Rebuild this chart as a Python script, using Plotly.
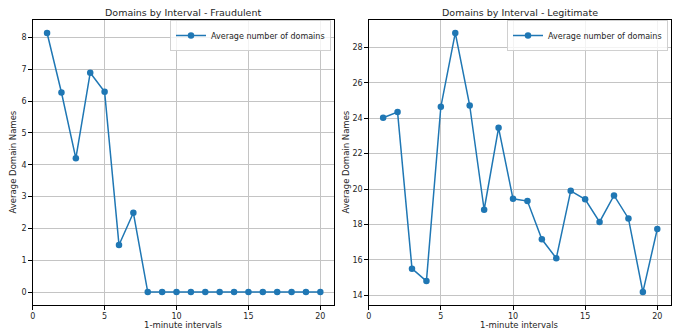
import plotly.graph_objects as go

intervals = list(range(1, 21))
fraud_avg = [8.14, 6.27, 4.20, 6.89, 6.29, 1.48, 2.49, 0, 0, 0, 0, 0, 0, 0, 0, 0, 0, 0, 0, 0]
legit_avg = [24.03, 24.35, 15.50, 14.80, 24.65, 28.82, 24.72, 18.83, 23.46, 19.45,
             19.32, 17.16, 16.09, 19.90, 19.42, 18.14, 19.64, 18.34, 14.18, 17.74]
series_name = "Average number of domains"
titles = ["Domains by Interval - Fraudulent", "Domains by Interval - Legitimate"]
xlabel = "1-minute intervals"
ylabel = "Average Domain Names"

W, H = 676, 331
BLUE = "#1f77b4"
FONT = "DejaVu Sans"
TXT = "#262626"

fig = go.Figure()
fig.add_trace(go.Scatter(x=intervals, y=fraud_avg, mode="lines+markers", name=series_name,
                         line=dict(color=BLUE, width=1.5), marker=dict(color=BLUE, size=6.5),
                         xaxis="x", yaxis="y", legend="legend"))
fig.add_trace(go.Scatter(x=intervals, y=legit_avg, mode="lines+markers", name=series_name,
                         line=dict(color=BLUE, width=1.5), marker=dict(color=BLUE, size=6.5),
                         xaxis="x2", yaxis="y2", legend="legend2"))

def px_x(p):
    return p / W

def px_y(p):
    return 1 - p / H

ydom = [px_y(305), px_y(20)]
xd1 = [px_x(32.7), px_x(334)]
xd2 = [px_x(368.7), px_x(671)]

axis_common = dict(showline=True, mirror=True, linecolor="#000000", linewidth=1,
                   ticks="outside", ticklen=3.5, tickwidth=1, tickcolor="#000000",
                   showgrid=True, gridcolor="#c4c4c4", gridwidth=1, zeroline=False,
                   automargin=False,
                   tickfont=dict(family=FONT, size=8, color=TXT))

def yr(vals):
    lo, hi = min(vals), max(vals)
    m = (hi - lo) * 0.05
    return [lo - m, hi + m]

def xr(vals):
    lo, hi = min(vals), max(vals)
    m = (hi - lo) * 0.05
    return [0, hi + m]

fig.update_layout(
    width=W, height=H,
    margin=dict(l=0, r=0, t=0, b=0, autoexpand=False),
    paper_bgcolor="white", plot_bgcolor="white",
    font=dict(family=FONT, color=TXT),
    xaxis=dict(domain=xd1, anchor="y", range=xr(intervals), tickvals=[0, 5, 10, 15, 20], **axis_common),
    yaxis=dict(domain=ydom, anchor="x", range=yr(fraud_avg), tickvals=list(range(0, 9)), **axis_common),
    xaxis2=dict(domain=xd2, anchor="y2", range=xr(intervals), tickvals=[0, 5, 10, 15, 20], **axis_common),
    yaxis2=dict(domain=ydom, anchor="x2", range=yr(legit_avg), tickvals=list(range(14, 29, 2)), **axis_common),
    legend=dict(x=xd1[1] - px_x(3), y=ydom[1], xanchor="right", yanchor="top",
                bgcolor="rgba(255,255,255,0.8)", bordercolor="#d0d0d0", borderwidth=1,
                font=dict(family=FONT, size=8, color=TXT), itemwidth=30),
    legend2=dict(x=xd2[1] - px_x(3), y=ydom[1], xanchor="right", yanchor="top",
                 bgcolor="rgba(255,255,255,0.8)", bordercolor="#d0d0d0", borderwidth=1,
                 font=dict(family=FONT, size=8, color=TXT), itemwidth=30),
    showlegend=True,
)

annos = []
for dom, t in zip([xd1, xd2], titles):
    cx = (dom[0] + dom[1]) / 2
    annos.append(dict(text=t, x=cx, y=px_y(12), xref="paper", yref="paper", showarrow=False,
                      xanchor="center", yanchor="middle", font=dict(family=FONT, size=9.5, color=TXT)))
    annos.append(dict(text=xlabel, x=cx, y=px_y(331), xref="paper", yref="paper", showarrow=False,
                      xanchor="center", yanchor="bottom", borderpad=0,
                      font=dict(family=FONT, size=8.5, color=TXT)))
annos.append(dict(text=ylabel, x=px_x(12), y=(ydom[0] + ydom[1]) / 2, xref="paper", yref="paper",
                  showarrow=False, textangle=-90, xanchor="center", yanchor="middle",
                  font=dict(family=FONT, size=8.5, color=TXT)))
annos.append(dict(text=ylabel, x=px_x(345), y=(ydom[0] + ydom[1]) / 2, xref="paper", yref="paper",
                  showarrow=False, textangle=-90, xanchor="center", yanchor="middle",
                  font=dict(family=FONT, size=8.5, color=TXT)))
fig.update_layout(annotations=annos)

fig.write_html("out.html", config={"displayModeBar": False},
               post_script="document.body.style.margin='0px';document.body.style.overflow='hidden';")
